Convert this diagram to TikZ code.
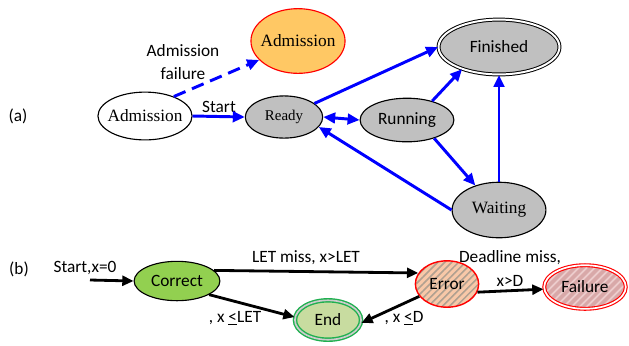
\documentclass[tikz,border=0pt]{standalone}
\usepackage{fontspec}
\setmainfont{Liberation Serif}
\setsansfont{Carlito}
\usetikzlibrary{arrows.meta,shapes.geometric,patterns.meta}
\definecolor{stategray}{RGB}{192,192,192}
\definecolor{admorange}{RGB}{255,200,100}
\definecolor{corgreen}{RGB}{146,208,80}
\definecolor{endgreen}{RGB}{200,220,160}
\definecolor{endborder}{RGB}{32,176,80}
\definecolor{errpeach}{RGB}{248,200,168}
\definecolor{errstripe}{RGB}{176,160,144}
\definecolor{failpink}{RGB}{216,168,168}
\definecolor{failstripe}{RGB}{236,204,204}
\tikzset{
  state/.style={ellipse, draw=black, line width=0.8pt, inner sep=0pt,
    font=\fontsize{12.3}{14}\selectfont},
  sfstate/.style={state, font=\sffamily\fontsize{12.3}{14}\selectfont},
  blueline/.style={draw=blue, line width=2.1pt, -{Triangle[length=8.5pt,width=7.5pt]}},
  blackline/.style={draw=black, line width=2pt, -{Triangle[length=8pt,width=7pt]}},
  lbl/.style={font=\sffamily\fontsize{12.3}{14}\selectfont, inner sep=0pt}
}
\begin{document}
\begin{tikzpicture}[x=0.025cm, y=-0.025cm]
  \useasboundingbox (0,0) rectangle (629,345);
  % (a) admission and task states
  \node[lbl] (la) at (18,116) {(a)};
  \node[state, fill=white, inner xsep=-3pt, minimum width=66.7pt, minimum height=34pt] (adm) at (145,116) {Admission};
  \node[state, draw=red, fill=admorange, inner xsep=-3pt, minimum width=66.7pt, minimum height=46pt] (admfail) at (298,41) {Admission};
  \node[state, fill=stategray, minimum width=55pt, minimum height=30pt,
        font=\fontsize{10.6}{12}\selectfont] (ready) at (284,117) {Ready};
  \node[sfstate, fill=stategray, minimum width=66.7pt, minimum height=31pt] (run) at (407,120) {Running};
  \node[sfstate, fill=stategray, double=white, double distance=1.4pt, line width=0.7pt,
        minimum width=86pt, minimum height=39pt] (fin) at (499,47) {Finished};
  \node[state, fill=stategray, minimum width=66.7pt, minimum height=39.5pt] (wait) at (499,210) {Waiting};
  \node[lbl, align=center] (lfail) at (183,62) {Admission\\[2pt]failure};
  \node[lbl] (lstart) at (219,107) {Start};
  \draw[blueline] (adm.east) -- (ready.west);
  \draw[blueline, dashed, dash pattern=on 9pt off 5pt] (adm.34) -- (admfail.206);
  \draw[blueline] (ready.24) -- (fin.west);
  \draw[blueline, {Triangle[length=8.5pt,width=7.5pt]}-{Triangle[length=8.5pt,width=7.5pt]}] (ready.east) -- (run.west);
  \draw[blueline] (run.37) -- (fin.211);
  \draw[blueline] (run.326) -- (wait.134);
  \draw[blueline] (wait.west) -- (ready.344);
  \draw[blueline] (wait.north) -- (fin.south);
  % (b) timing automaton
  \node[lbl] (lb) at (19,269) {(b)};
  \node[lbl] (lstartx) at (85,268) {Start,x=0};
  \coordinate (init) at (90,280);
  \node[sfstate, fill=corgreen, minimum width=61pt, minimum height=28pt] (corr) at (177,281) {Correct};
  \node[sfstate, draw=endborder, fill=endgreen, double=gray!40, double distance=1.2pt, line width=1pt,
        minimum width=47pt, minimum height=28pt] (end) at (328,320) {End};
  \node[sfstate, draw=red, line width=1pt, preaction={fill=errpeach},
        pattern={Lines[angle=45,distance=3.5pt,line width=1.1pt]}, pattern color=errstripe,
        minimum width=45pt, minimum height=33pt] (err) at (447,284) {Error};
  \node[sfstate, draw=red, double=white, double distance=1.2pt, line width=0.8pt, preaction={fill=failpink},
        pattern={Lines[angle=45,distance=4pt,line width=1.3pt]}, pattern color=failstripe,
        minimum width=58pt, minimum height=31pt] (fail) at (585,287) {Failure};
  \node[lbl] (llet) at (306,258) {LET miss, x>LET};
  \node[lbl] (lend) at (235,318) {, x \underline{<}LET};
  \node[lbl] (lerrend) at (404,318) {, x \underline{<}D};
  \node[lbl] (ldead) at (510,258) {Deadline miss,};
  \node[lbl] (lxd) at (510,281) {x>D};
  \draw[blackline] (init) -- (corr.west);
  \draw[blackline] (corr.16) -- (err.159);
  \draw[blackline] (corr.337) -- (end.175);
  \draw[blackline] (err.204) -- (end.355);
  \draw[blackline] (err.345) -- (fail.183);
\end{tikzpicture}
\end{document}
